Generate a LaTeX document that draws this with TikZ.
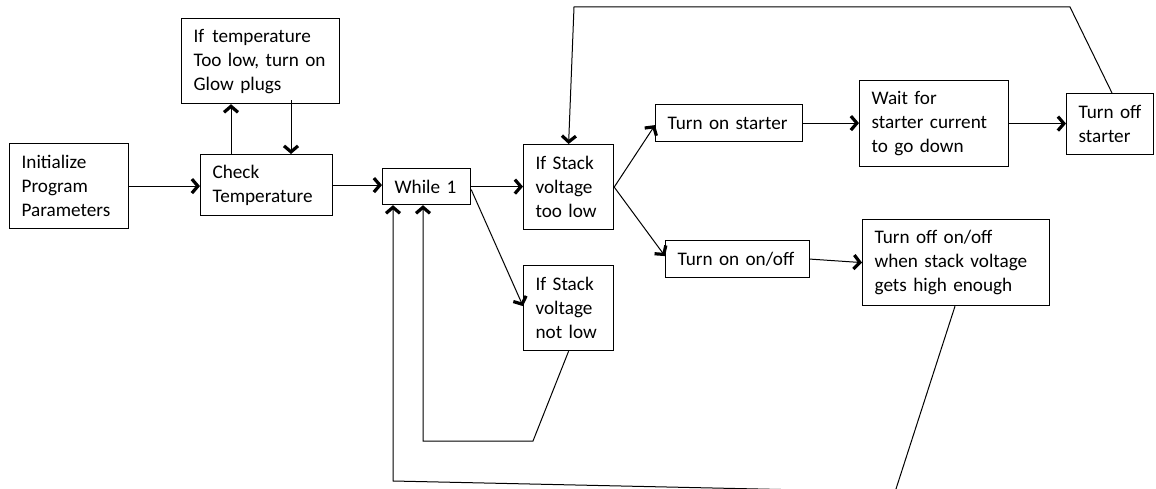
\documentclass[tikz,border=0pt]{standalone}
\usepackage{fontspec}
\setmainfont{Carlito}
\usetikzlibrary{arrows.meta}

\tikzset{
  box/.style={draw, line width=1.2pt, anchor=north west, align=left,
    inner xsep=12pt, inner ysep=0pt,
    font=\fontsize{19.2}{24}\selectfont},
  wire/.style={line width=1pt},
  arr/.style={wire, -{Straight Barb[length=6pt,width=14pt,line width=3.2pt 0 1]}},
}

\begin{document}
\begin{tikzpicture}[x=1pt,y=-1pt]
  % canvas
  \fill[white] (0,0) rectangle (1156,489);
  \useasboundingbox (0,0) rectangle (1156,489);
  \clip (0,0) rectangle (1156,489);

  % process boxes
  \node[box, text width=95pt,  minimum height=85pt] (init)       at (9,143)   {Initialize\\Program\\Parameters};
  \node[box, text width=134pt, minimum height=85pt] (glow)       at (181,18)  {If\hspace{8pt}temperature\\Too low, turn on\\Glow plugs};
  \node[box, text width=108pt, minimum height=61pt] (check)      at (200,154) {Check\\Temperature};
  \node[box, text width=64pt,  minimum height=36pt] (loop)       at (382,168) {While 1};
  \node[box, text width=66pt,  minimum height=85pt] (stacklow)   at (523,144) {If Stack\\voltage\\too low};
  \node[box, text width=66pt,  minimum height=85pt] (notlow)     at (523,265) {If Stack\\voltage\\not low};
  \node[box, text width=123pt, minimum height=37pt] (starteron)  at (655,104) {Turn on starter};
  \node[box, text width=125pt, minimum height=86pt] (wait)       at (859,80)  {Wait for\\starter current\\to go down};
  \node[box, text width=63pt,  minimum height=61pt] (starteroff) at (1066,93) {Turn off\\starter};
  \node[box, text width=120pt, minimum height=37pt] (onoffon)    at (665,240) {Turn on on/off};
  \node[box, text width=163pt, minimum height=86pt] (onoffoff)   at (862,219) {Turn off on/off\\when stack voltage\\gets high enough};

  % bends of the return paths
  \coordinate (nlA)  at (533,441);
  \coordinate (nlB)  at (423,441);
  \coordinate (topR) at (1070,7);
  \coordinate (topL) at (574,7);
  \coordinate (meet) at (895,492);
  \coordinate (botL) at (393,481);

  % main flow
  \draw[arr] (init.east) -- (init.east -| check.west);
  \draw[arr] ([xshift=31pt]check.north west) -- ([xshift=31pt]check.north west |- glow.south);
  \draw[arr] ([xshift=110pt,yshift=4pt]glow.south west) -- ([xshift=91pt]check.north west);
  \draw[arr] (check.east) -- (check.east -| loop.west);
  \draw[arr] (loop.east) -- (loop.east -| stacklow.west);
  \draw[arr] ([yshift=-3pt]loop.east) -- ([yshift=2pt]notlow.west);

  % low-voltage branches
  \draw[arr] (stacklow.east) -- ([yshift=-2pt]starteron.west);
  \draw[arr] (stacklow.east) -- ([yshift=3pt]onoffon.west);
  \draw[arr] (starteron.east) -- (starteron.east -| wait.west);
  \draw[arr] (wait.east) -- (wait.east -| starteroff.west);
  \draw[arr] (onoffon.east) -- (onoffoff.west);

  % return paths
  \draw[arr] (notlow.south) -- (nlA) -- (nlB) -- (nlB |- loop.south);
  \draw[arr] ([xshift=46pt]starteroff.north west) -- (topR) -- (topL) -- (stacklow.north);
  \draw[arr] ([xshift=93pt]onoffoff.south west) -- (meet) -- (botL) -- (botL |- loop.south);
\end{tikzpicture}
\end{document}
